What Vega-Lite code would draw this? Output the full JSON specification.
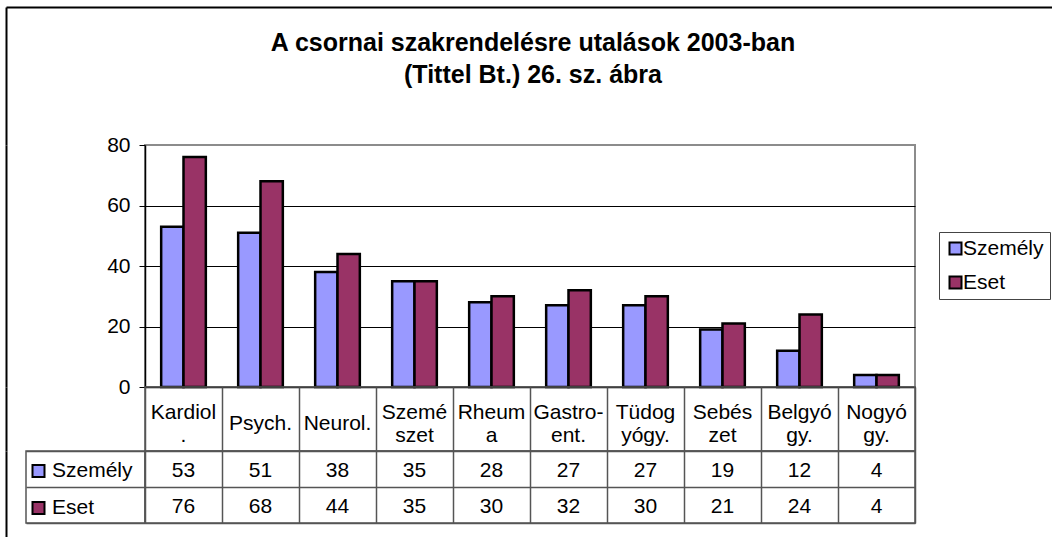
{
  "$schema": "https://vega.github.io/schema/vega-lite/v6.json",
  "padding": {"left": 6, "top": 7, "right": 0, "bottom": 0},
  "background": "white",
  "config": {
    "font": "Liberation Sans",
    "view": {"stroke": null},
    "axis": {"labelFont": "Liberation Sans", "labelFontSize": 21, "labelColor": "#000"},
    "legend": {"labelFont": "Liberation Sans", "labelFontSize": 21, "labelColor": "#000"},
    "text": {"font": "Liberation Sans", "fontSize": 21, "color": "#000"},
    "title": {"font": "Liberation Sans", "color": "#000"}
  },
  "datasets": {
    "d": [
      {"szak": "Kardiol.", "felirat": "Kardiol\n.", "Személy": 53, "Eset": 76},
      {"szak": "Psych.", "felirat": "Psych.", "Személy": 51, "Eset": 68},
      {"szak": "Neurol.", "felirat": "Neurol.", "Személy": 38, "Eset": 44},
      {"szak": "Szemészet", "felirat": "Szemé\nszet", "Személy": 35, "Eset": 35},
      {"szak": "Rheuma", "felirat": "Rheum\na", "Személy": 28, "Eset": 30},
      {"szak": "Gastroent.", "felirat": "Gastro-\nent.", "Személy": 27, "Eset": 32},
      {"szak": "Tüdogyógy.", "felirat": "Tüdog\nyógy.", "Személy": 27, "Eset": 30},
      {"szak": "Sebészet", "felirat": "Sebés\nzet", "Személy": 19, "Eset": 21},
      {"szak": "Belgyógy.", "felirat": "Belgyó\ngy.", "Személy": 12, "Eset": 24},
      {"szak": "Nogyógy.", "felirat": "Nogyó\ngy.", "Személy": 4, "Eset": 4}
    ]
  },
  "bounds": "flush",
  "spacing": 0,
  "resolve": {"scale": {"color": "independent"}, "legend": {"color": "independent"}},
  "vconcat": [
    {
      "width": 1046,
      "height": 138,
      "data": {"name": "d"},
      "mark": {"type": "point", "opacity": 0},
      "encoding": {
        "x": {"field": "Személy", "type": "quantitative", "axis": {"orient": "top", "labels": false, "ticks": false, "grid": false, "title": null, "domainColor": "#000", "domainWidth": 2}},
        "y": {"field": "Eset", "type": "quantitative", "axis": {"orient": "left", "labels": false, "ticks": false, "grid": false, "title": null, "domainColor": "#000", "domainWidth": 2}}
      }
    },
    {
      "columns": 3,
      "bounds": "flush",
      "spacing": 0,
      "resolve": {"scale": {"color": "independent"}, "legend": {"color": "independent"}},
      "concat": [
        {
          "width": 20, "height": 242, "data": {"name": "d"},
          "mark": {"type": "point", "opacity": 0},
          "encoding": {"y": {"field": "Eset", "type": "quantitative", "axis": {"orient": "left", "labels": false, "ticks": false, "grid": false, "title": null, "domainColor": "#000", "domainWidth": 2}}}
        },
        {"width": 119, "height": 242, "data": {"name": "d"}, "mark": "text", "encoding": {}},
        {
          "width": 770,
          "height": 242,
          "data": {"name": "d"},
          "transform": [{"fold": ["Személy", "Eset"], "as": ["sorozat", "ertek"]}],
          "title": {
            "text": ["A csornai szakrendelésre utalások 2003-ban", "(Tittel Bt.) 26. sz. ábra"],
            "fontSize": 25,
            "fontWeight": "bold",
            "lineHeight": 32,
            "offset": 46,
            "anchor": "middle",
            "dx": 3
          },
          "view": {"stroke": "#8c8c8c", "strokeWidth": 2},
          "mark": {"type": "bar", "stroke": "#000", "strokeWidth": 2.5},
          "encoding": {
            "x": {"field": "szak", "type": "nominal", "sort": null, "scale": {"paddingInner": 0.42, "paddingOuter": 0.21}, "axis": {"labels": false, "ticks": false, "title": null, "domainColor": "#000", "domainWidth": 1.5}},
            "xOffset": {"field": "sorozat", "type": "nominal", "sort": ["Személy", "Eset"], "scale": {"paddingInner": 0, "paddingOuter": 0}},
            "y": {"field": "ertek", "type": "quantitative", "scale": {"domain": [0, 80]}, "axis": {"values": [0, 20, 40, 60, 80], "title": null, "grid": true, "gridColor": {"condition": {"test": "datum.value === 80", "value": "#8c8c8c"}, "value": "#000"}, "gridWidth": 1, "tickColor": "#000", "tickSize": 6, "labelPadding": 9, "domainColor": "#000", "domainWidth": 1.5}},
            "color": {
              "field": "sorozat", "type": "nominal", "sort": ["Személy", "Eset"],
              "scale": {"domain": ["Személy", "Eset"], "range": ["#9999ff", "#993366"]},
              "legend": {"title": null, "orient": "none", "legendX": 794, "legendY": 87, "direction": "vertical", "strokeColor": "#444", "padding": 6, "symbolType": "square", "symbolSize": 144, "symbolStrokeColor": "#000", "symbolStrokeWidth": 2, "symbolOpacity": 1, "labelOffset": -3, "rowPadding": 12}
            }
          }
        },
        {
          "width": 20, "height": 64, "data": {"name": "d"},
          "mark": {"type": "point", "opacity": 0},
          "encoding": {"y": {"field": "Eset", "type": "quantitative", "axis": {"orient": "left", "labels": false, "ticks": false, "grid": false, "title": null, "domainColor": "#000", "domainWidth": 2}}}
        },
        {"width": 119, "height": 64, "data": {"name": "d"}, "mark": "text", "encoding": {}},
        {
          "width": 770,
          "height": 64,
          "data": {"name": "d"},
          "view": {"stroke": "#555", "strokeWidth": 1.5},
          "encoding": {
            "x": {"field": "szak", "type": "nominal", "sort": ["Kardiol.", "Psych.", "Neurol.", "Szemészet", "Rheuma", "Gastroent.", "Tüdogyógy.", "Sebészet", "Belgyógy.", "Nogyógy."], "bandPosition": 0.5, "scale": {"type": "band", "paddingInner": 0, "paddingOuter": 0}, "axis": {"labels": false, "ticks": false, "domain": false, "title": null, "grid": true, "tickBand": "extent", "gridColor": "#555", "gridWidth": 1.5}},
            "text": {"field": "felirat", "type": "nominal"}
          },
          "layer": [
            {
              "transform": [{"filter": "indexof(datum.felirat, '\\n') < 0"}],
              "mark": {"type": "text", "lineBreak": "\n", "lineHeight": 23.5, "baseline": "middle", "fontSize": 21, "dy": 5}
            },
            {
              "transform": [{"filter": "indexof(datum.felirat, '\\n') >= 0"}],
              "mark": {"type": "text", "lineBreak": "\n", "lineHeight": 23.5, "baseline": "middle", "fontSize": 21, "dy": -6.5}
            }
          ]
        },
        {
          "width": 20, "height": 86, "data": {"name": "d"},
          "mark": {"type": "point", "opacity": 0},
          "encoding": {"y": {"field": "Eset", "type": "quantitative", "axis": {"orient": "left", "labels": false, "ticks": false, "grid": false, "title": null, "domainColor": "#000", "domainWidth": 2}}}
        },
        {
          "width": 119,
          "height": 72,
          "data": {"name": "d"},
          "transform": [{"fold": ["Személy", "Eset"], "as": ["sorozat", "ertek"]}],
          "view": {"stroke": "#555", "strokeWidth": 1.5},
          "mark": {"type": "bar", "opacity": 0},
          "encoding": {
            "y": {"field": "sorozat", "type": "nominal", "sort": ["Személy", "Eset"], "scale": {"paddingInner": 0, "paddingOuter": 0}, "axis": {"labels": false, "ticks": false, "domain": false, "title": null, "grid": true, "tickBand": "extent", "gridColor": "#555", "gridWidth": 1.5}},
            "color": {
              "field": "sorozat", "type": "nominal", "sort": ["Személy", "Eset"],
              "scale": {"domain": ["Személy", "Eset"], "range": ["#9999ff", "#993366"]},
              "legend": {"title": null, "orient": "none", "legendX": 2, "legendY": 9.5, "direction": "vertical", "padding": 0, "symbolType": "square", "symbolSize": 144, "symbolStrokeColor": "#000", "symbolStrokeWidth": 2, "symbolOpacity": 1, "labelOffset": 3, "rowPadding": 15}
            }
          }
        },
        {
          "width": 770,
          "height": 72,
          "data": {"name": "d"},
          "transform": [{"fold": ["Személy", "Eset"], "as": ["sorozat", "ertek"]}],
          "view": {"stroke": "#555", "strokeWidth": 1.5},
          "mark": {"type": "text", "baseline": "middle", "fontSize": 21, "dy": 1.5},
          "encoding": {
            "x": {"field": "szak", "type": "nominal", "sort": null, "bandPosition": 0.5, "scale": {"type": "band", "paddingInner": 0, "paddingOuter": 0}, "axis": {"labels": false, "ticks": false, "domain": false, "title": null, "grid": true, "tickBand": "extent", "gridColor": "#555", "gridWidth": 1.5}},
            "y": {"field": "sorozat", "type": "nominal", "sort": ["Személy", "Eset"], "bandPosition": 0.5, "scale": {"type": "band", "paddingInner": 0, "paddingOuter": 0}, "axis": {"labels": false, "ticks": false, "domain": false, "title": null, "grid": true, "tickBand": "extent", "gridColor": "#555", "gridWidth": 1.5}},
            "text": {"field": "ertek", "type": "quantitative"}
          }
        }
      ]
    }
  ]
}
